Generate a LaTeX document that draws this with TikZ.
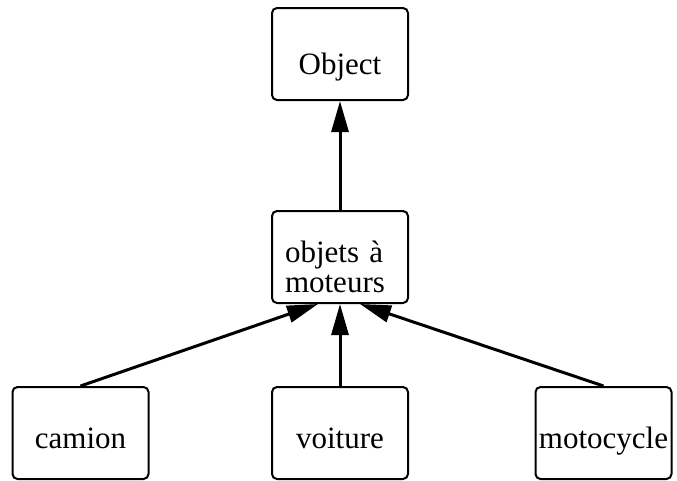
\documentclass[tikz,border=0pt]{standalone}
\usepackage{fontspec}
\setmainfont{Liberation Serif}
\usetikzlibrary{arrows.meta}
\tikzset{
  classe/.style={draw, line width=2pt, rounded corners=5pt,
    minimum width=136pt, minimum height=92pt,
    font=\fontsize{31}{30}\selectfont},
  herite/.style={line width=3pt, -{Triangle[length=31pt,width=17pt]}}
}
\begin{document}
\begin{tikzpicture}[x=1pt,y=-1pt]
  \useasboundingbox (0,0) rectangle (677,480);
  \node[classe, text height=40pt, text depth=0pt] (object) at (340,54) {Object};
  \node[classe, align=left, text width=110pt, text height=10pt, text depth=0pt]
    (moteurs) at (340,257) {objets à\\moteurs};
  % les trois sous-classes
  \foreach \nom/\x/\dx in {camion/80.5/-22, voiture/340/0, motocycle/603.5/20}{
    \node[classe, text height=30pt, text depth=0pt] (\nom) at (\x,433) {\nom};
    \draw[herite] (\nom.north) -- ([xshift=\dx pt]moteurs.south);
  }
  \draw[herite] (moteurs) -- (object);
\end{tikzpicture}
\end{document}
